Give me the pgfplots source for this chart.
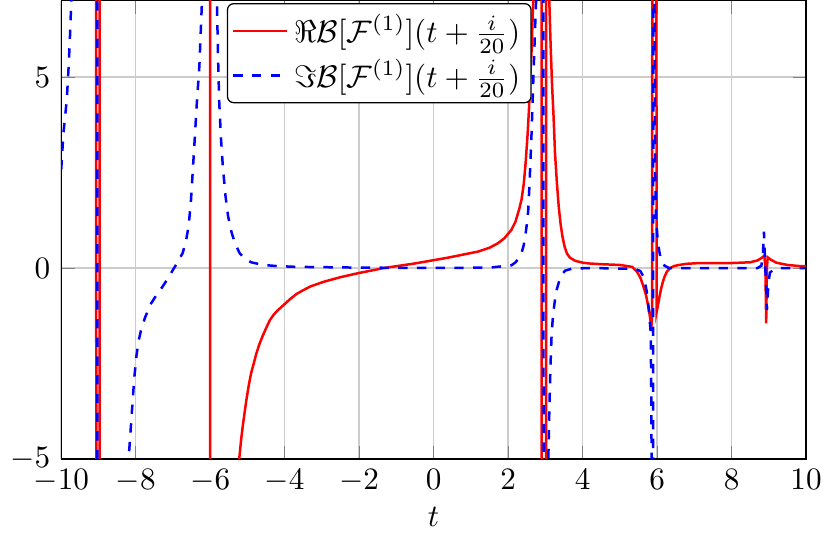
\documentclass[border=0pt]{standalone}
\usepackage{pgfplots}
\pgfplotsset{compat=1.18}
\begin{document}
\begin{tikzpicture}
\begin{axis}[
  scale only axis,
  width=239pt, height=147pt,
  xmin=-10, xmax=10, ymin=-5, ymax=7,
  xtick={-10,-8,...,10},
  ytick={-5,0,5},
  grid=major,
  major grid style={gray!40, line width=0.5pt},
  xlabel={$t$},
  xlabel style={yshift=2pt},
  legend cell align=left,
  legend style={at={(0.427,0.995)}, anchor=north, rounded corners=2pt, draw=black, fill=white, inner sep=1.5pt},
]
\addplot[red, thick] coordinates {
(-10,30) (-9.07,30) (-9.05,-30) (-8.98,-30) (-8.96,30) (-6.01,30) (-5.99,-30)
(-5.6,-12) (-5.4,-7.5) (-5.3,-6) (-5.22,-5) (-5.17,-4.5) (-5.12,-4.1) (-5.07,-3.75)
(-5.03,-3.47) (-4.96,-3.05) (-4.9,-2.75) (-4.83,-2.5) (-4.76,-2.24) (-4.68,-2.0)
(-4.6,-1.8) (-4.5,-1.58) (-4.4,-1.37) (-4.3,-1.23) (-4.2,-1.12) (-4.04,-0.98)
(-3.86,-0.82) (-3.68,-0.68) (-3.5,-0.58) (-3.3,-0.48) (-2.95,-0.36) (-2.5,-0.24)
(-2.05,-0.14) (-1.33,0.0) (-0.5,0.12) (0.38,0.27) (1.19,0.43) (1.5,0.53) (1.73,0.65)
(1.9,0.78) (2.09,1.0) (2.2,1.22) (2.3,1.55) (2.36,1.79) (2.42,2.2) (2.47,2.75)
(2.52,3.45) (2.56,4.15) (2.59,4.85) (2.63,5.7) (2.66,6.6) (2.70,7.5) (2.78,15)
(2.895,30) (2.905,-30) (3.015,-30) (3.025,30) (3.07,11) (3.10,7.2) (3.14,5.9)
(3.18,4.8) (3.22,3.98) (3.26,3.0) (3.31,2.23) (3.36,1.6) (3.41,1.15) (3.46,0.82)
(3.52,0.55) (3.58,0.38) (3.66,0.27) (3.8,0.19) (4.0,0.14) (4.16,0.12) (4.5,0.1)
(5.0,0.08) (5.33,0.03) (5.45,-0.08) (5.55,-0.25) (5.63,-0.47) (5.7,-0.7) (5.76,-0.98)
(5.8,-1.22) (5.83,-1.42) (5.85,-1.5) (5.865,-1.3) (5.89,30) (5.96,30) (5.99,-1.14)
(6.02,-1.0) (6.06,-0.78) (6.1,-0.58) (6.15,-0.38) (6.2,-0.23) (6.26,-0.1) (6.35,0.0)
(6.45,0.05) (6.59,0.08) (6.8,0.11) (7.14,0.13) (8.0,0.13) (8.5,0.15)
(8.7,0.2) (8.8,0.26) (8.88,0.32) (8.91,0.0) (8.93,-1.45) (8.95,0.0) (8.97,0.28)
(9.05,0.22) (9.2,0.14) (9.5,0.08) (9.84,0.05) (10,0.05)
};
\addlegendentry{$\Re\mathcal{B}[\mathcal{F}^{(1)}](t+\frac{i}{20})$}
\addplot[blue, thick, dashed] coordinates {
(-10,2.58) (-9.94,3.54) (-9.85,4.41) (-9.8,5.29) (-9.76,6.17) (-9.73,7.0) (-9.65,9)
(-9.4,16) (-9.04,30) (-9.02,-30) (-8.6,-15) (-8.3,-7) (-8.19,-5.0) (-8.14,-4.3)
(-8.09,-3.6) (-8.04,-2.9) (-7.98,-2.3) (-7.92,-1.9) (-7.85,-1.6) (-7.75,-1.3)
(-7.6,-0.95) (-7.45,-0.72) (-7.28,-0.49) (-7.14,-0.28) (-7.0,-0.05) (-6.87,0.16)
(-6.74,0.39) (-6.65,0.7) (-6.58,1.1) (-6.52,1.7) (-6.47,2.5) (-6.42,3.3) (-6.36,4.3)
(-6.29,5.29) (-6.22,7.0) (-6.1,15) (-6.0,30) (-5.9,15) (-5.82,7.0) (-5.79,5.6)
(-5.76,4.41) (-5.71,3.4) (-5.66,2.66) (-5.59,1.9) (-5.52,1.36) (-5.43,0.95)
(-5.34,0.66) (-5.21,0.39) (-5.08,0.25) (-4.9,0.15) (-4.58,0.08) (-4.2,0.05)
(-3.68,0.03) (-2,0.01) (0,0.0) (1.5,0.01) (2.09,0.07) (2.2,0.15) (2.3,0.27)
(2.36,0.39) (2.42,0.6) (2.47,0.9) (2.51,1.2) (2.54,1.5) (2.57,2.1) (2.6,2.8)
(2.63,3.54) (2.68,5) (2.72,6.17) (2.76,7.2) (2.85,20) (2.945,30) (2.955,-30)
(3.05,-9) (3.08,-5) (3.11,-3.6) (3.14,-2.5) (3.17,-1.7) (3.21,-1.2) (3.26,-0.82)
(3.31,-0.55) (3.37,-0.35) (3.44,-0.18) (3.53,-0.07) (3.7,-0.02) (4.16,0.0)
(5.4,-0.02) (5.55,-0.08) (5.65,-0.25) (5.72,-0.6) (5.78,-1.1) (5.83,-1.7)
(5.85,-4.0) (5.87,-30) (5.92,30) (5.93,7) (5.95,2.5) (5.97,1.3) (6.03,0.6)
(6.1,0.23) (6.2,0.06) (6.32,0) (7,0) (8.7,0) (8.8,0.06) (8.84,0.3) (8.87,0.95)
(8.95,-1.1) (8.99,-0.4) (9.03,-0.12) (9.15,-0.03) (9.3,0) (10,0)
};
\addlegendentry{$\Im\mathcal{B}[\mathcal{F}^{(1)}](t+\frac{i}{20})$}
\end{axis}
\end{tikzpicture}
\end{document}
